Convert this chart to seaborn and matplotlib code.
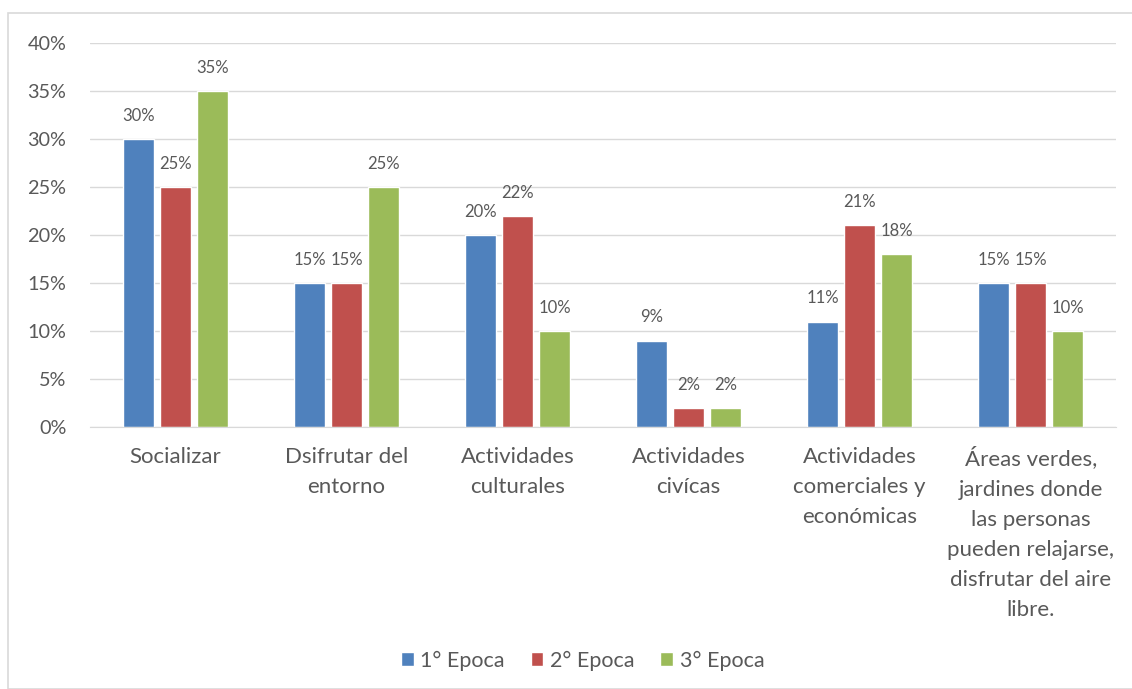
import pandas as pd
import matplotlib
matplotlib.use('Agg')
import matplotlib.pyplot as plt
import seaborn as sns
from matplotlib.patches import Rectangle
from matplotlib.ticker import PercentFormatter

categories = [
    'Socializar',
    'Dsifrutar del\nentorno',
    'Actividades\nculturales',
    'Actividades\ncivícas',
    'Actividades\ncomerciales y\neconómicas',
    'Áreas verdes,\njardines donde\nlas personas\npueden relajarse,\ndisfrutar del aire\nlibre.',
]
series = ['1° Epoca', '2° Epoca', '3° Epoca']
epoca1 = [30, 15, 20, 9, 11, 15]
epoca2 = [25, 15, 22, 2, 21, 15]
epoca3 = [35, 25, 10, 2, 18, 10]
colors = ['#4F81BD', '#C0504D', '#9BBB59']

rows = []
for name, vals in zip(series, [epoca1, epoca2, epoca3]):
    for cat, v in zip(categories, vals):
        rows.append({'cat': cat, 'epoca': name, 'val': v / 100})
df = pd.DataFrame(rows)

sns.set_style('white')
plt.rcParams['font.family'] = ['Lato', 'DejaVu Sans']
text_color = '#595959'

fig = plt.figure(figsize=(11.32, 6.89), dpi=100)
ax = fig.add_axes([0.0795, 0.380, 0.9065, 0.5576])

sns.barplot(data=df, x='cat', y='val', hue='epoca', palette=colors,
            width=0.65, gap=0.17, ax=ax, saturation=1)

for cont in ax.containers:
    ax.bar_label(cont, labels=[f'{b.get_height() * 100:.0f}%' for b in cont],
                 padding=11, fontsize=12, color=text_color)

ax.set_ylim(0, 0.40)
ax.set_yticks([i / 100 for i in range(0, 41, 5)])
ax.yaxis.set_major_formatter(PercentFormatter(1.0, decimals=0))
ax.grid(axis='y', color='#d9d9d9', linewidth=1)
ax.set_axisbelow(True)
for s in ['top', 'right', 'left']:
    ax.spines[s].set_visible(False)
ax.spines['bottom'].set_color('#d9d9d9')
ax.set_xlabel('')
ax.set_ylabel('')
ax.set_xlim(-0.5, 5.5)
ax.set_xticks(range(len(categories)), labels=categories)
ax.tick_params(axis='both', length=0, colors=text_color)
ax.tick_params(axis='y', pad=17, labelsize=14.3)
ax.tick_params(axis='x', pad=14, labelsize=16)
for lbl in ax.get_xticklabels():
    lbl.set_linespacing(1.63)

leg = ax.legend(loc='upper center', bbox_to_anchor=(0.48, -0.531), ncol=3,
                frameon=False, fontsize=15.5, handlelength=0.6, handleheight=0.6,
                handletextpad=0.3, columnspacing=1.2)
for t in leg.get_texts():
    t.set_color(text_color)

fig.patches.append(Rectangle((8 / 1132, 0), 1.0, 1 - 13 / 689, transform=fig.transFigure,
                             fill=False, edgecolor='#d9d9d9', linewidth=1.2))

plt.savefig('out.png', dpi=100)
